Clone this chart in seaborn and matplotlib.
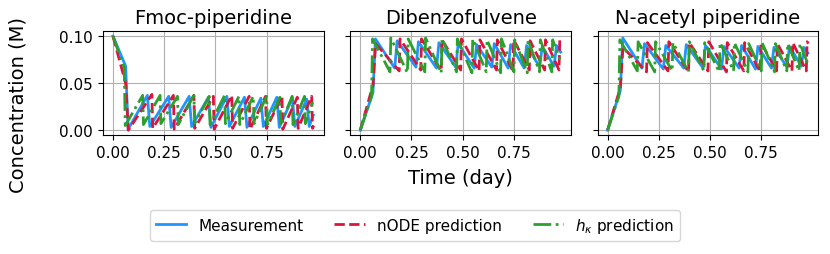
import matplotlib
matplotlib.use("Agg")
import matplotlib.pyplot as plt
import seaborn as sns
import pandas as pd

panels = ["Fmoc-piperidine", "Dibenzofulvene", "N-acetyl piperidine"]
series_labels = ["Measurement", "nODE prediction", r"$h_\kappa$ prediction"]
xticks = [0.00, 0.25, 0.50, 0.75]
yticks = [0.00, 0.05, 0.10]

# time vertices (day)
t_meas = [0, 0.062, 0.074, 0.168, 0.18, 0.272, 0.284, 0.372, 0.384, 0.466, 0.478,
          0.556, 0.568, 0.642, 0.654, 0.722, 0.734, 0.80, 0.812, 0.876, 0.888,
          0.946, 0.958, 0.978]
t_node = [0, 0.062, 0.075, 0.19, 0.194, 0.295, 0.299, 0.395, 0.399, 0.49, 0.494,
          0.58, 0.584, 0.665, 0.669, 0.745, 0.749, 0.825, 0.829, 0.9, 0.904,
          0.97, 0.974, 0.98]
t_hk = [0, 0.055, 0.06, 0.145, 0.149, 0.23, 0.234, 0.315, 0.319, 0.395, 0.399,
        0.47, 0.474, 0.545, 0.549, 0.615, 0.619, 0.685, 0.689, 0.75, 0.754,
        0.815, 0.819, 0.875, 0.879, 0.935, 0.939, 0.975]

# Fmoc-piperidine (M)
fmoc_meas = [0.100, 0.068, 0.001, 0.037, 0.004, 0.036, 0.003, 0.036, 0.004, 0.035, 0.003,
             0.036, 0.004, 0.035, 0.003, 0.034, 0.004, 0.035, 0.003, 0.034, 0.004,
             0.033, 0.004, 0.016]
fmoc_node = [0.100, 0.050, 0.000, 0.038, 0.002, 0.037, 0.001, 0.037, 0.002, 0.036, 0.001,
             0.037, 0.002, 0.036, 0.001, 0.036, 0.002, 0.036, 0.001, 0.035, 0.002,
             0.036, 0.002, 0.005]
fmoc_hk = [0.100, 0.066, 0.005, 0.037, 0.006, 0.037, 0.007, 0.036, 0.006, 0.037, 0.007,
           0.036, 0.006, 0.037, 0.007, 0.036, 0.006, 0.036, 0.007, 0.036, 0.006,
           0.035, 0.007, 0.036, 0.006, 0.036, 0.007, 0.030]

# Dibenzofulvene (M)
dbf_meas = [0.0, 0.040, 0.097, 0.066, 0.095, 0.067, 0.094, 0.066, 0.093, 0.067, 0.092,
            0.066, 0.091, 0.067, 0.092, 0.066, 0.091, 0.066, 0.090, 0.067, 0.089,
            0.068, 0.090, 0.083]
dbf_node = [0.0, 0.048, 0.092, 0.063, 0.097, 0.064, 0.097, 0.063, 0.096, 0.064, 0.097,
            0.063, 0.096, 0.064, 0.096, 0.063, 0.096, 0.064, 0.095, 0.064, 0.096,
            0.064, 0.097, 0.094]
dbf_hk = [0.0, 0.036, 0.097, 0.062, 0.098, 0.061, 0.097, 0.062, 0.098, 0.061, 0.097,
          0.062, 0.097, 0.061, 0.097, 0.062, 0.096, 0.061, 0.097, 0.062, 0.096,
          0.061, 0.096, 0.062, 0.096, 0.062, 0.096, 0.075]

# N-acetyl piperidine (M)
nap_meas = [0.0, 0.042, 0.098, 0.066, 0.092, 0.065, 0.090, 0.066, 0.091, 0.066, 0.090,
            0.065, 0.089, 0.066, 0.090, 0.065, 0.089, 0.066, 0.088, 0.067, 0.089,
            0.068, 0.088, 0.082]
nap_node = [0.0, 0.045, 0.088, 0.062, 0.093, 0.063, 0.094, 0.062, 0.093, 0.063, 0.094,
            0.062, 0.093, 0.063, 0.093, 0.062, 0.093, 0.063, 0.092, 0.063, 0.093,
            0.063, 0.094, 0.092]
nap_hk = [0.0, 0.036, 0.096, 0.063, 0.094, 0.062, 0.094, 0.063, 0.093, 0.062, 0.094,
          0.063, 0.093, 0.062, 0.093, 0.063, 0.093, 0.062, 0.092, 0.063, 0.093,
          0.062, 0.092, 0.063, 0.092, 0.063, 0.092, 0.072]

data = {
    "Fmoc-piperidine": (fmoc_meas, fmoc_node, fmoc_hk),
    "Dibenzofulvene": (dbf_meas, dbf_node, dbf_hk),
    "N-acetyl piperidine": (nap_meas, nap_node, nap_hk),
}
times = (t_meas, t_node, t_hk)
colors = ["#1f96ff", "#dc143c", "#2ca02c"]
styles = ["-", "--", "-."]

plt.rcParams["font.family"] = ["DejaVu Sans"]
fig, axes = plt.subplots(1, 3, figsize=(8.3, 2.55), dpi=100, sharey=True)
fig.subplots_adjust(left=0.124, right=0.986, top=0.873, bottom=0.467, wspace=0.12)

for ax, name in zip(axes, panels):
    for t, y, lab, c, ls in zip(times, data[name], series_labels, colors, styles):
        df = pd.DataFrame({"t": t, "y": y})
        sns.lineplot(data=df, x="t", y="y", ax=ax, color=c, linestyle=ls,
                     linewidth=2, label=lab, sort=False, estimator=None, legend=False)
    ax.set_title(name, fontsize=14)
    ax.set_xticks(xticks)
    ax.set_xticklabels([f"{v:.2f}" for v in xticks], fontsize=11)
    ax.set_yticks(yticks)
    ax.tick_params(labelsize=11)
    ax.grid(True, color="#b0b0b0", linewidth=0.8)
    ax.set_xlabel("")
    ax.set_ylabel("")
axes[0].set_yticklabels([f"{v:.2f}" for v in yticks])

fig.text(0.022, 0.59, "Concentration (M)", rotation=90, ha="center", va="center", fontsize=14)
fig.text(0.555, 0.30, "Time (day)", ha="center", va="center", fontsize=14)
handles, labels = axes[0].get_legend_handles_labels()
fig.legend(handles, labels, loc="center", bbox_to_anchor=(0.5, 0.113), ncol=3,
           fontsize=11, frameon=True)

fig.savefig("out.png", dpi=100)
